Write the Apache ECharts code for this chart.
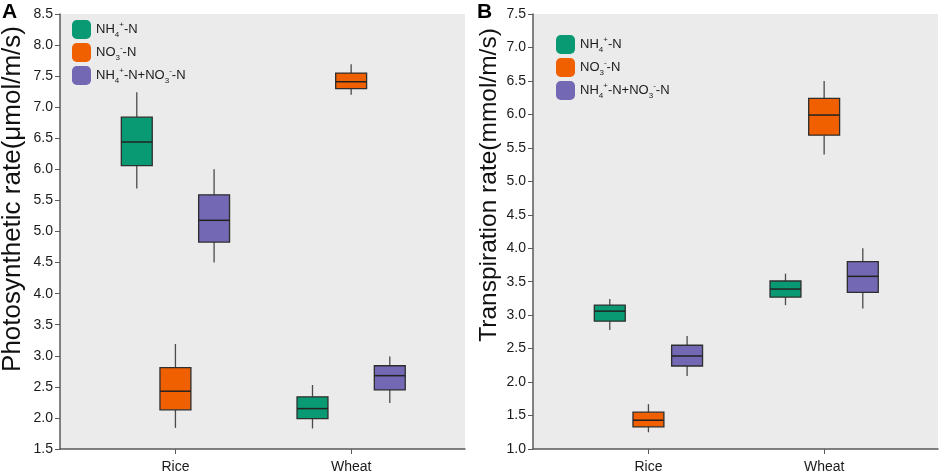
<!DOCTYPE html>
<html>
<head>
<meta charset="utf-8">
<script src="https://cdn.jsdelivr.net/npm/echarts@6/dist/echarts.min.js"></script>
<style>
  html, body { margin: 0; padding: 0; background: #fff; }
  #box { width: 941px; height: 475px; }
</style>
</head>
<body>
<div id="box"></div>
<script>
// categories and treatments
var crops = ['Rice', 'Wheat'];
var treatments = ['NH4+-N', 'NO3--N', 'NH4+-N+NO3--N'];
var colors = ['#0a9a73', '#f06000', '#7268b3'];

// box values per crop: [low, q1, median, q3, high]
var photoNH4 = [[5.69, 6.06, 6.44, 6.84, 7.24], [1.83, 1.99, 2.15, 2.34, 2.53]];
var photoNO3 = [[1.84, 2.13, 2.43, 2.81, 3.19], [7.20, 7.30, 7.41, 7.55, 7.69]];
var photoMix = [[4.50, 4.83, 5.18, 5.59, 6.00], [2.24, 2.45, 2.68, 2.84, 2.99]];

var transNH4 = [[2.78, 2.91, 3.06, 3.15, 3.24], [3.15, 3.27, 3.39, 3.51, 3.62]];
var transNO3 = [[1.25, 1.33, 1.43, 1.55, 1.67], [5.40, 5.69, 5.99, 6.24, 6.50]];
var transMix = [[2.09, 2.24, 2.39, 2.55, 2.69], [3.10, 3.34, 3.58, 3.80, 4.00]];

// y axis ticks
var photoTicks = { min: 1.5, max: 8.5, step: 0.5 };
var transTicks = { min: 1.0, max: 7.5, step: 0.5 };

var FONT = 'Liberation Sans, Arial, sans-serif';
var OFFSETS = [-0.22, 0, 0.22];   // group offset, in category units
var BOX_W = 0.176;

function toData(arr) {
	return crops.map(function (c, i) {
		return [i + 1].concat(arr[i]);
	});
}

function renderBox(params, api) {
	var off = OFFSETS[treatments.indexOf(params.seriesName)];
	var x = api.value(0) + off;
	var h = BOX_W / 2;
	var low = api.coord([x, api.value(1)]);
	var q1 = api.coord([x - h, api.value(2)]);
	var med = api.coord([x - h, api.value(3)]);
	var q3 = api.coord([x + h, api.value(4)]);
	var high = api.coord([x, api.value(5)]);
	var xl = q1[0], xr = q3[0];
	var wStyle = { stroke: '#4a4a4a', lineWidth: 1.3 };
	return {
		type: 'group',
		children: [
			{ type: 'line', shape: { x1: low[0], y1: low[1], x2: low[0], y2: q1[1] }, style: wStyle },
			{ type: 'line', shape: { x1: low[0], y1: q3[1], x2: low[0], y2: high[1] }, style: wStyle },
			{ type: 'rect', shape: { x: xl, y: q3[1], width: xr - xl, height: q1[1] - q3[1] },
				style: { fill: api.visual('color'), stroke: '#2e2e2e', lineWidth: 1.3 } },
			{ type: 'line', shape: { x1: xl, y1: med[1], x2: xr, y2: med[1] },
				style: { stroke: '#222', lineWidth: 1.5 } }
		]
	};
}

function boxSeries(name, arr, idx) {
	return {
		name: name,
		type: 'custom',
		xAxisIndex: idx,
		yAxisIndex: idx,
		itemStyle: { color: colors[treatments.indexOf(name)] },
		encode: { x: 0, y: [1, 2, 3, 4, 5] },
		renderItem: renderBox,
		data: toData(arr)
	};
}

function xAxisOf(idx) {
	return {
		type: 'value',
		gridIndex: idx,
		min: 0.343,
		max: 2.648,
		splitLine: { show: false },
		axisLine: { show: true, onZero: false, lineStyle: { color: '#5a5a5a', width: 1.5 } },
		axisTick: { show: true, customValues: [1, 2], length: 5, lineStyle: { color: '#5a5a5a' } },
		axisLabel: {
			customValues: [1, 2],
			margin: 11,
			fontSize: 14,
			fontFamily: FONT,
			color: '#1a1a1a',
			formatter: function (v) { return crops[Math.round(v) - 1]; }
		}
	};
}

function yAxisOf(idx, t) {
	return {
		type: 'value',
		gridIndex: idx,
		min: t.min,
		max: t.max,
		interval: t.step,
		splitLine: { show: false },
		axisLine: { show: true, lineStyle: { color: '#5a5a5a', width: 1.5 } },
		axisTick: { show: true, length: 5, lineStyle: { color: '#5a5a5a' } },
		axisLabel: {
			margin: 7,
			fontSize: 14,
			fontFamily: FONT,
			color: '#1a1a1a',
			formatter: function (v) { return v.toFixed(1); }
		}
	};
}

var rich = {
	b: { fontSize: 13, fontFamily: FONT, color: '#1a1a1a', lineHeight: 18 },
	sub: { fontSize: 8, fontFamily: FONT, color: '#1a1a1a', verticalAlign: 'bottom', lineHeight: 12 },
	sup: { fontSize: 8, fontFamily: FONT, color: '#1a1a1a', verticalAlign: 'top', lineHeight: 12 }
};
var legendText = {
	'NH4+-N': '{b|NH}{sub|4}{sup|+}{b|-N}',
	'NO3--N': '{b|NO}{sub|3}{sup|-}{b|-N}',
	'NH4+-N+NO3--N': '{b|NH}{sub|4}{sup|+}{b|-N+NO}{sub|3}{sup|-}{b|-N}'
};

function legendOf(left, top) {
	return {
		left: left,
		top: top,
		orient: 'vertical',
		icon: 'roundRect',
		itemWidth: 19,
		itemHeight: 19,
		itemGap: 4,
		padding: 0,
		selectedMode: false,
		itemStyle: { borderWidth: 0 },
		data: treatments,
		formatter: function (n) { return legendText[n]; },
		textStyle: { rich: rich }
	};
}

var myChart = echarts.init(document.getElementById('box'));

var option = {
	animation: false,
	backgroundColor: '#fff',
	grid: [
		{ left: 60, top: 14, width: 405, height: 435, show: true, backgroundColor: '#ebebeb', borderWidth: 0, containLabel: false, outerBoundsMode: 'none' },
		{ left: 533, top: 14, width: 405, height: 435, show: true, backgroundColor: '#ebebeb', borderWidth: 0, containLabel: false, outerBoundsMode: 'none' }
	],
	legend: [legendOf(72, 20), legendOf(556, 35)],
	xAxis: [xAxisOf(0), xAxisOf(1)],
	yAxis: [yAxisOf(0, photoTicks), yAxisOf(1, transTicks)],
	graphic: [
		{ type: 'text', x: 2, y: 2, style: { text: 'A', font: 'bold 21px ' + FONT, fill: '#000' } },
		{ type: 'text', x: 477, y: 2, style: { text: 'B', font: 'bold 21px ' + FONT, fill: '#000' } },
		{ type: 'text', x: 13, y: 199, rotation: Math.PI / 2,
			style: { text: 'Photosynthetic rate(μmol/m/s)', font: '26px ' + FONT, fill: '#111', align: 'center', verticalAlign: 'middle' } },
		{ type: 'text', x: 489, y: 185, rotation: Math.PI / 2,
			style: { text: 'Transpiration rate(mmol/m/s)', font: '24.5px ' + FONT, fill: '#111', align: 'center', verticalAlign: 'middle' } }
	],
	series: [
		boxSeries('NH4+-N', photoNH4, 0),
		boxSeries('NO3--N', photoNO3, 0),
		boxSeries('NH4+-N+NO3--N', photoMix, 0),
		boxSeries('NH4+-N', transNH4, 1),
		boxSeries('NO3--N', transNO3, 1),
		boxSeries('NH4+-N+NO3--N', transMix, 1)
	]
};

myChart.setOption(option);
</script>
</body>
</html>
